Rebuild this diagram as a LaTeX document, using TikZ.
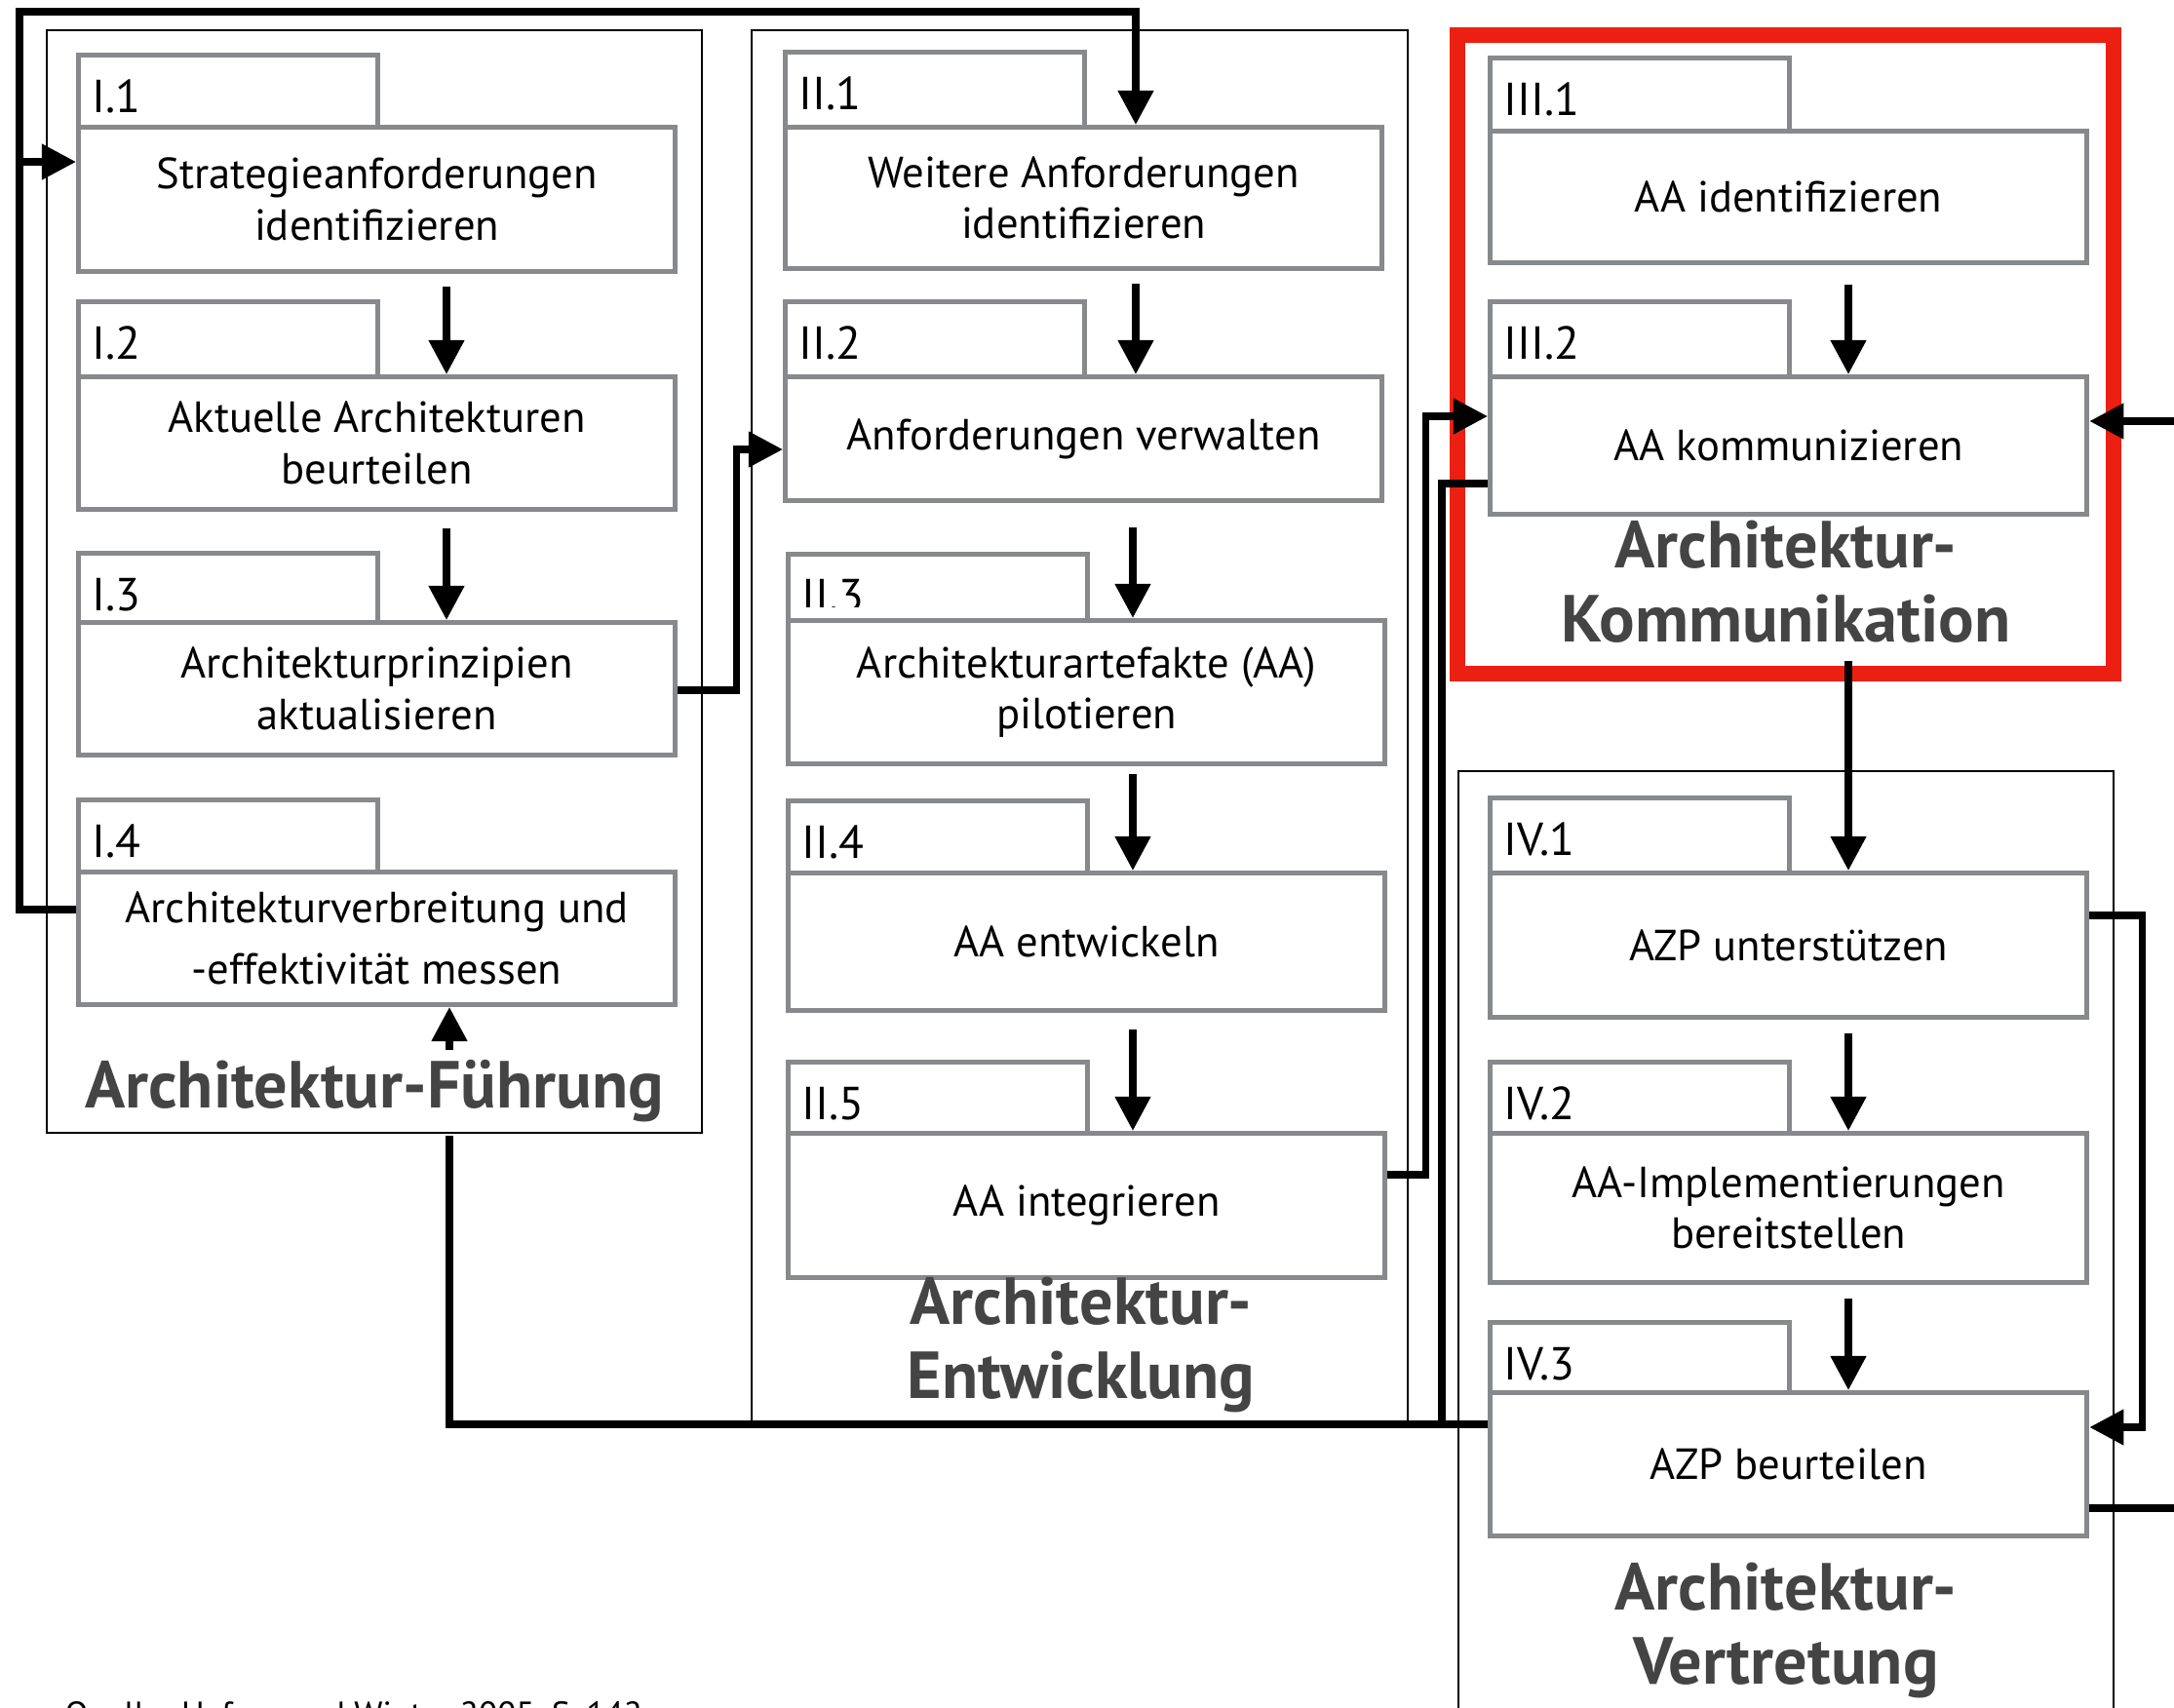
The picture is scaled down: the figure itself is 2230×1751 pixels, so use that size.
\documentclass[tikz,border=0pt]{standalone}
\usepackage{fontspec}
\setmainfont{PT Sans}
\usetikzlibrary{arrows.meta,calc}

\definecolor{boxgray}{RGB}{135,137,140}
\definecolor{titlegray}{RGB}{68,68,68}
\definecolor{markred}{RGB}{236,32,18}

\tikzset{
  tabbox/.style={draw=boxgray, line width=1.4pt, fill=white, minimum width=3.07cm, inner sep=0pt},
  stepbox/.style={draw=boxgray, line width=1.4pt, fill=white, align=center, inner sep=0pt,
    minimum width=6.12cm, font=\fontsize{12.7}{15}\selectfont},
  steplabel/.style={anchor=base west, inner sep=0pt, font=\fontsize{13.5}{16}\selectfont},
  groupbox/.style={draw=black, line width=0.7pt},
  grouptitle/.style={text=titlegray, font=\bfseries\fontsize{19.4}{21.6}\selectfont, align=center, inner sep=0pt},
  conn/.style={line width=2.1pt, line join=miter},
  arr/.style={conn, -{Triangle[length=10pt,width=10pt]}},
}

% #1 name, #2 left x, #3 tab top, #4 box top, #5 box bottom, #6 number, #7 activity
\newcommand\procstep[7]{%
  \node[tabbox, anchor=north west, minimum height={(#4-#3)*0.01cm}] (#1t) at (#2,#3) {};
  \node[steplabel] (#1l) at ({#2+16},{#3+61}) {#6};
  \node[stepbox, anchor=north west, minimum height={(#5-#4)*0.01cm}] (#1) at (#2,#4) {#7};
}
% arrow between two stacked steps: #1 from, #2 x offset, #3 gap below source, #4 to
\newcommand\stepdown[4]{%
  \draw[arr] ($(#1.south west)+(#2,#3)$) coordinate (#1dn) -- (#1dn |- #4.north);
}

\begin{document}
\begin{tikzpicture}[x=0.01cm, y=-0.01cm]
\useasboundingbox (0,0) rectangle (2230,1751);
\fill[white] (0,0) rectangle (2230,1751);
\clip (0,0) rectangle (2230,1751);

% phase frames
\draw[groupbox] (48,31) rectangle (720,1162);
\draw[groupbox] (771,31) rectangle (1444,1461);
\draw[groupbox] (1496,791) rectangle (2168,1800);
\draw[draw=markred, line width=4.6pt] (1495,36) rectangle (2168,691);

% Architektur-Fuehrung
\procstep{s11}{78}{54}{128}{276}{I.1}{Strategieanforderungen\\identifizieren}
\procstep{s12}{78}{307}{384}{520}{I.2}{Aktuelle Architekturen\\beurteilen}
\procstep{s13}{78}{565}{636}{772}{I.3}{Architekturprinzipien\\aktualisieren}
\procstep{s14}{78}{818}{892}{1028}{I.4}{Architekturverbreitung und\\[3pt]-effektivität messen}

% Architektur-Entwicklung
\procstep{s21}{803}{51}{128}{273}{II.1}{Weitere Anforderungen\\identifizieren}
\procstep{s22}{803}{307}{384}{511}{II.2}{Anforderungen verwalten}
\node[tabbox, anchor=north west, minimum height=0.68cm] (s23t) at (806,566) {};
\begin{scope}
  \clip (806,566) rectangle (1111,622);
  \node[steplabel] (s23l) at (822,627) {II.3};
\end{scope}
\node[stepbox, anchor=north west, minimum height=1.47cm] (s23) at (806,634) {Architekturartefakte (AA)\\pilotieren};
\procstep{s24}{806}{819}{893}{1034}{II.4}{AA entwickeln}
\procstep{s25}{806}{1087}{1160}{1308}{II.5}{AA integrieren}

% Architektur-Kommunikation
\procstep{s31}{1526}{57}{132}{267}{III.1}{AA identifizieren}
\procstep{s32}{1526}{307}{384}{525}{III.2}{AA kommunizieren}

% Architektur-Vertretung
\procstep{s41}{1526}{816}{893}{1041}{IV.1}{AZP unterstützen}
\procstep{s42}{1526}{1087}{1160}{1313}{IV.2}{AA-Implementierungen\\bereitstellen}
\procstep{s43}{1526}{1354}{1426}{1573}{IV.3}{AZP beurteilen}

% phase titles (base = baseline of the last line)
\node[grouptitle, anchor=base] (g1) at (384,1136) {Architektur-Führung};
\node[grouptitle, anchor=base] (g2) at (1109,1434) {Architektur-\\Entwicklung};
\node[grouptitle, anchor=base] (g3) at (1832,658) {Architektur-\\Kommunikation};
\node[grouptitle, anchor=base] (g4) at (1832,1727) {Architektur-\\Vertretung};

% sequence within each phase
\stepdown{s11}{380}{13}{s12}
\stepdown{s12}{380}{17}{s13}
\stepdown{s21}{362}{13}{s22}
\stepdown{s22}{359}{25}{s23}
\stepdown{s23}{356}{8}{s24}
\stepdown{s24}{356}{17}{s25}
\stepdown{s31}{370}{20}{s32}
\stepdown{s41}{370}{14}{s42}
\stepdown{s42}{370}{14}{s43}

% feedback loop from I.4 to I.1 and II.1
\coordinate (loopcorner) at (20,12);
\coordinate (i1in) at ($(s11.north west)+(0,38)$);
\draw[arr] ($(s14.north west)+(0,41)$) -| (loopcorner) -| ($(s21.north west)+(362,0)$);
\draw[arr] (loopcorner |- i1in) -- (i1in);

% I.3 to II.2
\draw[arr] ($(s13.north east)+(0,72)$) -- ++(60,0) |- ($(s22.north west)+(0,77)$);

% II.5 to III.2
\draw[arr] ($(s25.north east)+(0,45)$) -- ++(39,0) |- ($(s32.north west)+(0,43)$);

% Kommunikation to IV.1
\draw[arr] ($(s32.south west)+(370,148)$) -- ($(s41.north west)+(370,0)$);

% IV.1 to IV.3
\draw[arr] ($(s41.north east)+(0,46)$) -- ++(54,0) |- ($(s43.north east)+(0,38)$);

% IV.3 back to III.2 (routed beyond the right edge)
\draw[arr] ($(s43.north east)+(0,121)$) -- ++(140,0) |- ($(s32.north east)+(0,48)$);

% IV.3 and III.2 back to I.4
\coordinate (fbelow) at (461,1165);
\coordinate (fabove) at (461,1077);
\coordinate (joinpt) at (1479,1461);
\draw[conn] ($(s43.north west)+(0,35)$) -| (fbelow);
\draw[conn] ($(s32.north west)+(0,112)$) -| (joinpt);
\draw[arr] (fabove) -- (fabove |- s14.south);

% source line
\node[anchor=north west, inner sep=0pt, font=\fontsize{10}{12}\selectfont] (src) at (66,1745) {Quelle: Hafner und Winter 2005, S. 142};
\end{tikzpicture}
\end{document}
